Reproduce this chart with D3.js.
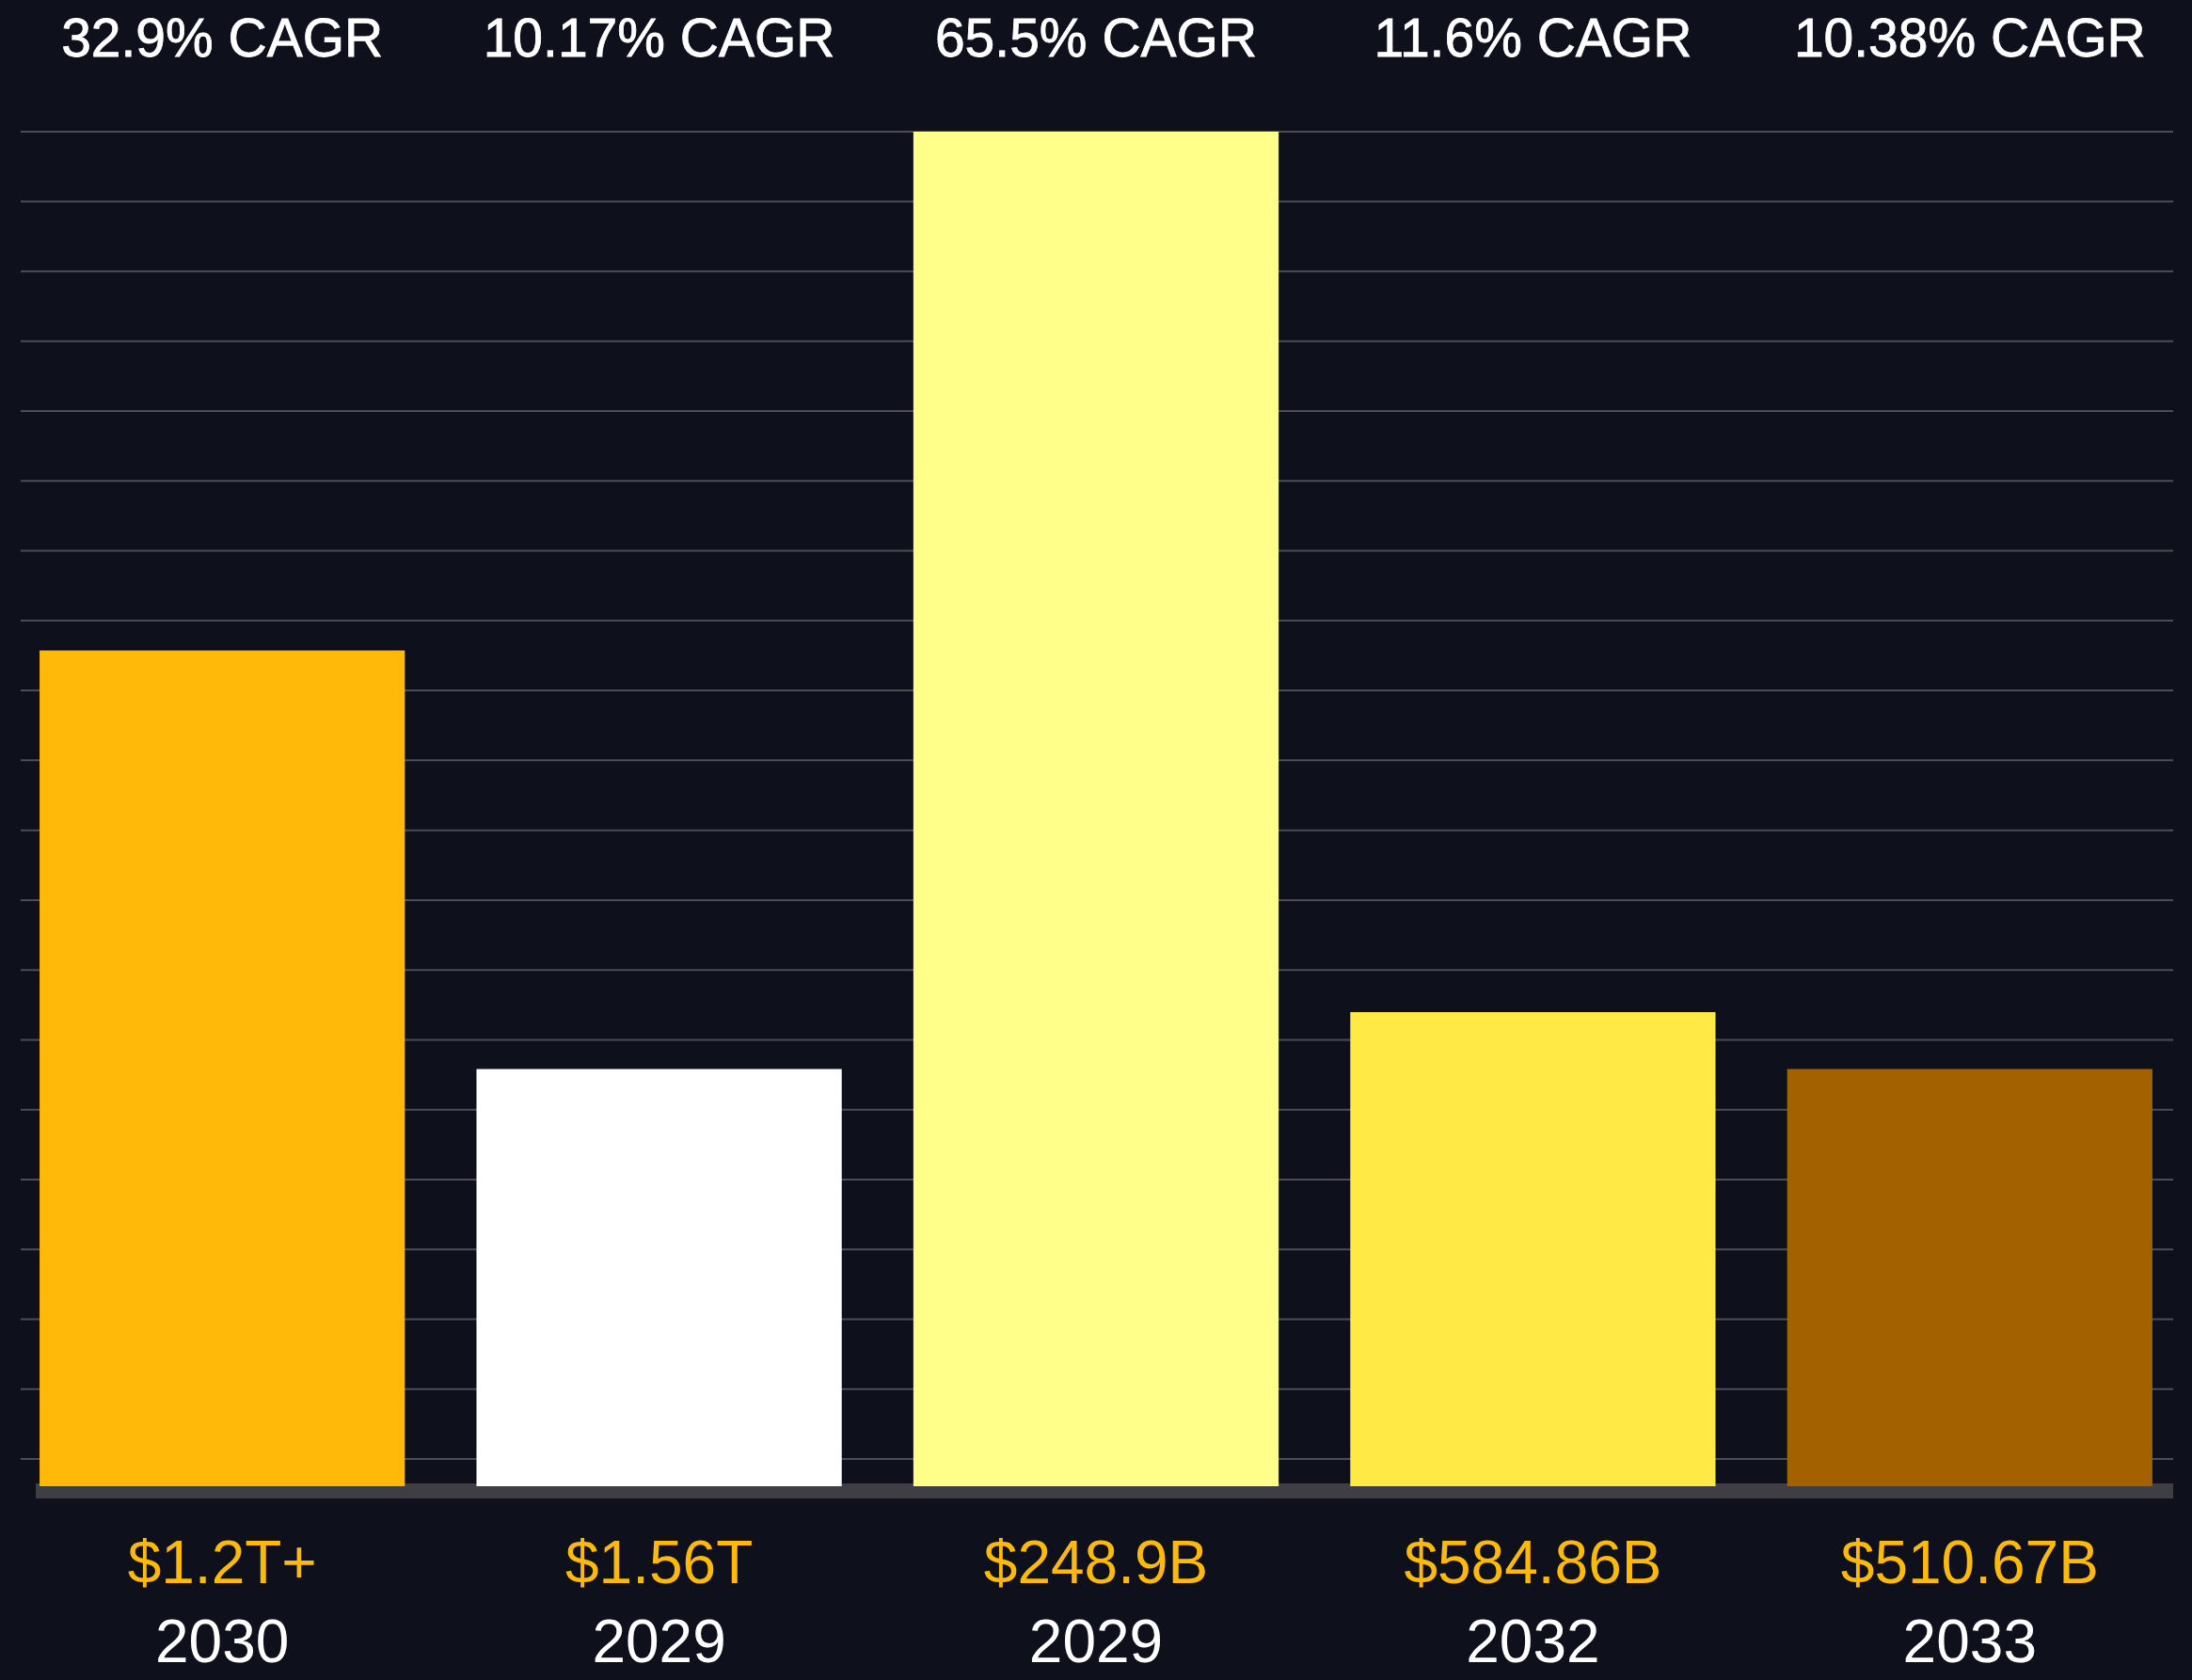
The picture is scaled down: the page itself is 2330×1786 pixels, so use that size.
<!DOCTYPE html>
<html>
<head>
<meta charset="utf-8">
<script src="https://cdn.jsdelivr.net/npm/d3@7"></script>
<style>
  html, body { margin: 0; padding: 0; background: #0e111c; }
  svg { display: block; }
  text { font-family: "Liberation Sans", Arial, Helvetica, sans-serif; }
</style>
</head>
<body>
<script>
// chart data
var years = ["2030", "2029", "2029", "2032", "2033"];
var marketSizes = ["$1.2T+", "$1.56T", "$248.9B", "$584.86B", "$510.67B"];
var cagrLabels = ["32.9% CAGR", "10.17% CAGR", "65.5% CAGR", "11.6% CAGR", "10.38% CAGR"];
// relative bar heights (tallest bar = 100)
var barHeights = [61.7, 30.8, 100, 35.0, 30.8];
var barColors = ["#ffb908", "#ffffff", "#ffff8a", "#ffe944", "#a36100"];
var gridLines = d3.range(20);

var W = 2330, H = 1786;
var margin = { top: 140, right: 4, bottom: 206, left: 4 },
    width = W - margin.left - margin.right,
    height = H - margin.top - margin.bottom;

var svg = d3.select("body").append("svg")
    .attr("width", W)
    .attr("height", H);

svg.append("rect")
    .attr("width", W)
    .attr("height", H)
    .attr("fill", "#0e111c");

var g = svg.append("g")
    .attr("transform", "translate(" + margin.left + "," + margin.top + ")");

var idx = d3.range(years.length);

var x = d3.scaleBand()
    .domain(idx)
    .range([0, width])
    .paddingInner(0.164)
    .paddingOuter(0.082);

var y = d3.scaleLinear()
    .domain([0, 100])
    .range([height, 0]);

// grid lines, evenly spaced from the top of the tallest bar down
var gy = d3.scaleLinear()
    .domain([0, gridLines.length - 1])
    .range([0, height - 29]);

g.append("g")
    .attr("class", "grid")
    .selectAll("line")
    .data(gridLines)
    .enter().append("line")
    .attr("x1", 18)
    .attr("x2", width - 16)
    .attr("y1", function(d) { return gy(d); })
    .attr("y2", function(d) { return gy(d); })
    .attr("stroke", "#4d4e54")
    .attr("stroke-width", 2);

// baseline band
g.append("rect")
    .attr("x", 34)
    .attr("y", height - 3)
    .attr("width", width - 50)
    .attr("height", 16)
    .attr("fill", "#3f3e44");

g.selectAll(".bar")
    .data(idx)
    .enter().append("rect")
    .attr("class", "bar")
    .attr("x", function(i) { return x(i); })
    .attr("width", x.bandwidth())
    .attr("y", function(i) { return y(barHeights[i]); })
    .attr("height", function(i) { return height - y(barHeights[i]); })
    .attr("fill", function(i) { return barColors[i]; });

// CAGR labels above
g.selectAll(".cagr")
    .data(idx)
    .enter().append("text")
    .attr("class", "cagr")
    .attr("x", function(i) { return x(i) + x.bandwidth() / 2; })
    .attr("y", -80)
    .attr("text-anchor", "middle")
    .attr("fill", "#ffffff")
    .attr("stroke", "#ffffff")
    .attr("stroke-width", 0.8)
    .attr("font-size", 57)
    .text(function(i) { return cagrLabels[i]; });

// market size + year below
g.selectAll(".size")
    .data(idx)
    .enter().append("text")
    .attr("class", "size")
    .attr("x", function(i) { return x(i) + x.bandwidth() / 2; })
    .attr("y", height + 103)
    .attr("text-anchor", "middle")
    .attr("fill", "#ffb908")
    .attr("font-size", 64)
    .text(function(i) { return marketSizes[i]; });

g.selectAll(".year")
    .data(idx)
    .enter().append("text")
    .attr("class", "year")
    .attr("x", function(i) { return x(i) + x.bandwidth() / 2; })
    .attr("y", height + 187)
    .attr("text-anchor", "middle")
    .attr("fill", "#ffffff")
    .attr("font-size", 64)
    .text(function(i) { return years[i]; });
</script>
</body>
</html>
